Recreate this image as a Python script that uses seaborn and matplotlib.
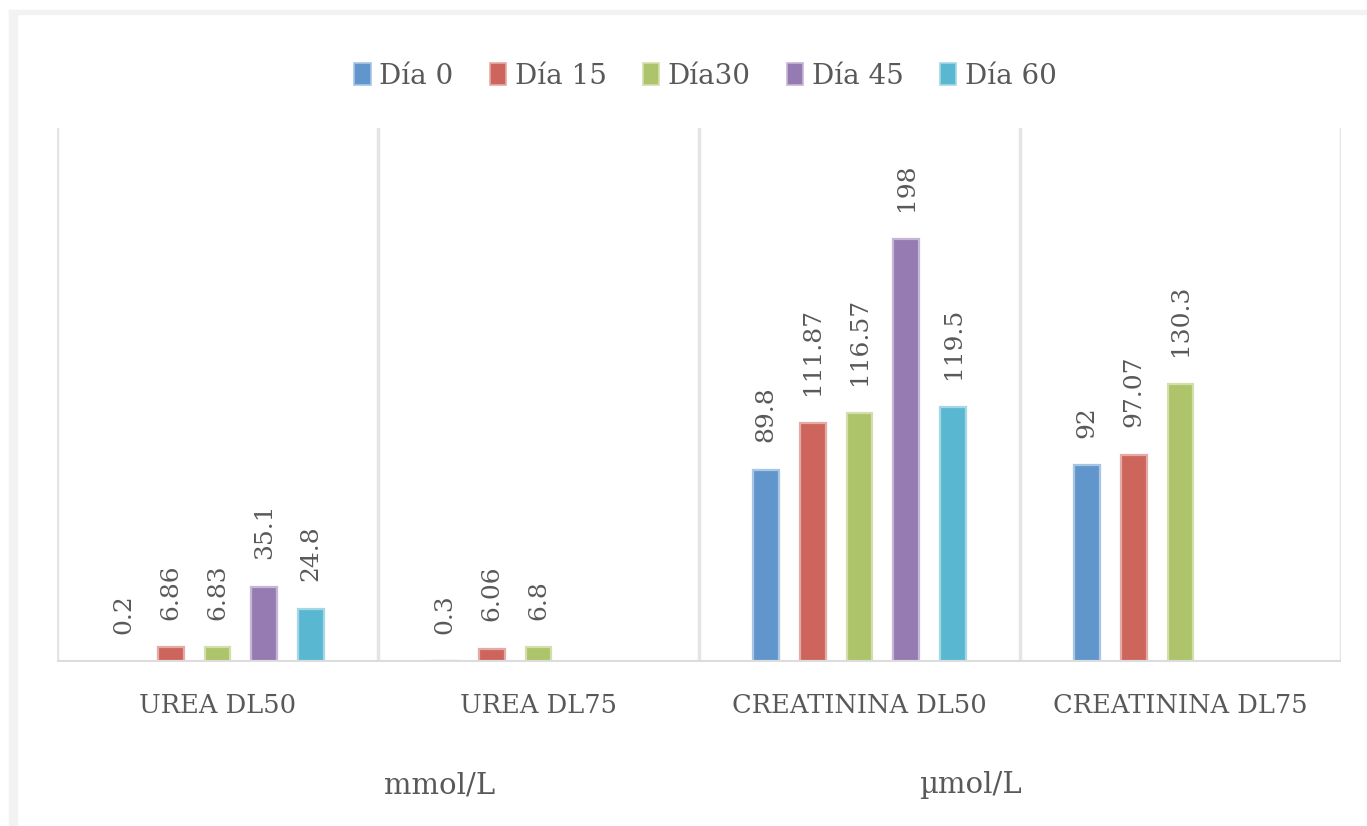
import numpy as np
import pandas as pd
import seaborn as sns
import matplotlib.pyplot as plt
from matplotlib.patches import Patch, Rectangle
from matplotlib.colors import to_rgb

# categories and series
categories = ['UREA DL50', 'UREA DL75', 'CREATININA DL50', 'CREATININA DL75']
dias = ['Día 0', 'Día 15', 'Día30', 'Día 45', 'Día 60']
dia_0 = [0.2, 0.3, 89.8, 92]
dia_15 = [6.86, 6.06, 111.87, 97.07]
dia_30 = [6.83, 6.8, 116.57, 130.3]
dia_45 = [35.1, np.nan, 198, np.nan]
dia_60 = [24.8, np.nan, 119.5, np.nan]
units = ['mmol/L', 'µmol/L']

colors = ['#6196CC', '#CD655C', '#ADC46A', '#957BB2', '#5AB7D1']
grey_text = '#595959'

series = [dia_0, dia_15, dia_30, dia_45, dia_60]
rows = []
for dia, vals in zip(dias, series):
    for cat, v in zip(categories, vals):
        rows.append({'cat': cat, 'dia': dia, 'val': v})
df = pd.DataFrame(rows).dropna()

sns.set_style('white')
plt.rcParams['font.family'] = ['DejaVu Serif']

fig = plt.figure(figsize=(13.67, 8.26), dpi=100)
ax = fig.add_axes([57 / 1367, 1 - 662 / 826, (1341 - 57) / 1367, (662 - 128) / 826])

sns.barplot(data=df, x='cat', y='val', hue='dia', order=categories, hue_order=dias,
            palette=colors, width=0.73, gap=0.45, ax=ax, legend=False, saturation=1)

# lighter edge round each bar
def lighter(c, f=0.45):
    r, g, b = to_rgb(c)
    return (r + (1 - r) * f, g + (1 - g) * f, b + (1 - b) * f)

for cont in ax.containers:
    for p in cont.patches:
        p.set_edgecolor(lighter(p.get_facecolor()))
        p.set_linewidth(1.6)
    ax.bar_label(cont, labels=[f'{v:g}' for v in cont.datavalues], rotation=90,
                 padding=20, fontsize=18, color=grey_text)

ax.set_ylim(0, 250)
ax.set_xlim(-0.5, 3.5)
for x in [-0.5, 0.5, 1.5, 2.5, 3.5]:
    ax.axvline(x, color='#E4E4E4', lw=2.5, zorder=0)
ax.axhline(0, color='#DCDCDC', lw=3, zorder=3)

sns.despine(ax=ax, left=True, bottom=True)
ax.set_yticks([])
ax.set_xlabel('')
ax.set_ylabel('')
ax.tick_params(axis='x', length=0, pad=22, labelsize=18.5, labelcolor=grey_text)

handles = [Patch(facecolor=c, edgecolor=lighter(c), linewidth=1.2) for c in colors]
ax.legend(handles, dias, loc='center', bbox_to_anchor=(0.505, 1.097), ncol=5,
          frameon=False, fontsize=20, handlelength=0.6, handleheight=0.85,
          handletextpad=0.3, columnspacing=1.3, labelcolor=grey_text)

fig.text(440 / 1367, 1 - 785 / 826, units[0], ha='center', va='center',
         fontsize=21, color=grey_text)
fig.text(970 / 1367, 1 - 785 / 826, units[1], ha='center', va='center',
         fontsize=21, color=grey_text)

# outer chart frame (left and top only visible)
fig.add_artist(Rectangle((9 / 1367, 0), 8 / 1367, 1 - 10 / 826,
                         transform=fig.transFigure, color='#F2F2F2', zorder=0))
fig.add_artist(Rectangle((9 / 1367, 1 - 14 / 826), 1, 4 / 826,
                         transform=fig.transFigure, color='#F2F2F2', zorder=0))

fig.savefig('out.png', dpi=100)
